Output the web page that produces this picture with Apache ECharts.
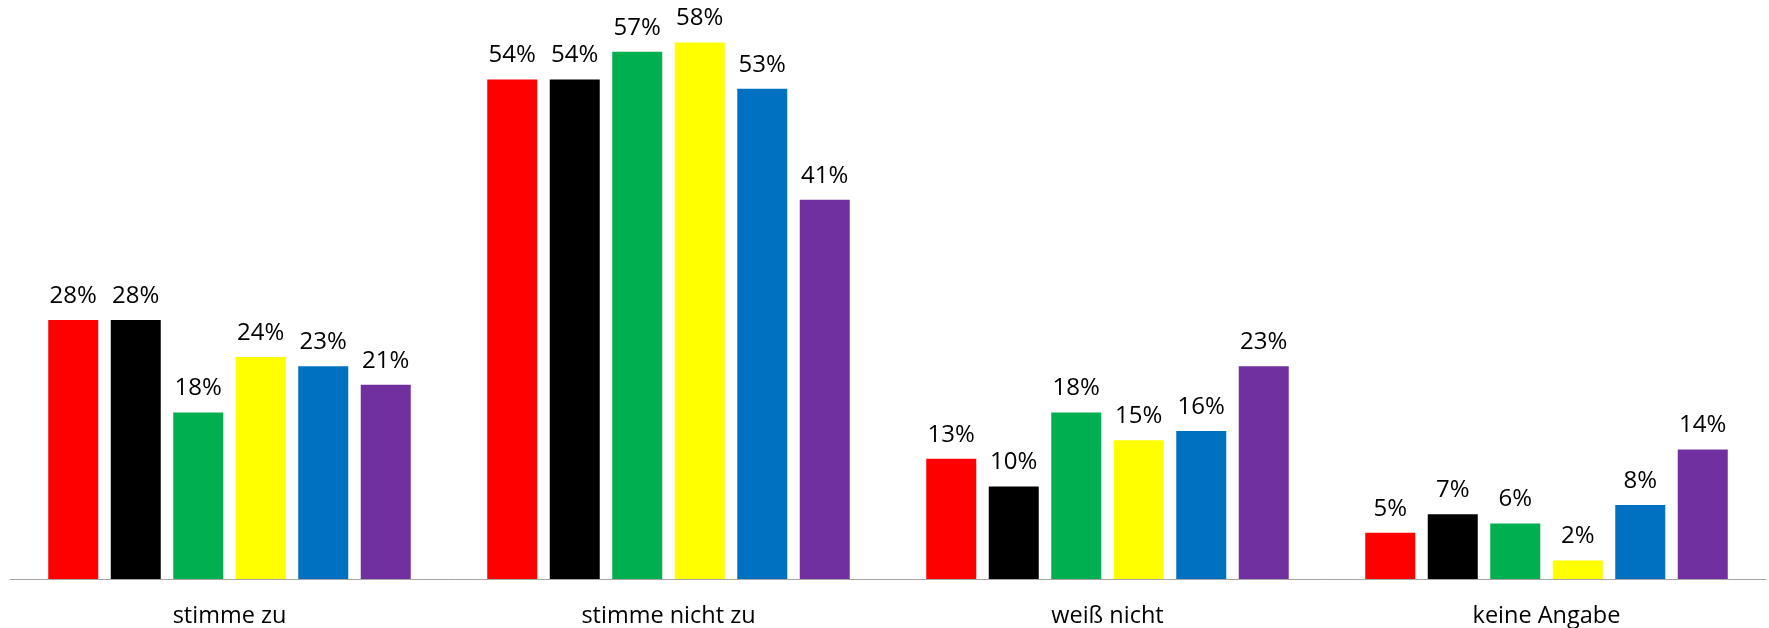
<!DOCTYPE html>
<html>
<head>
<meta charset="utf-8">
<script src="https://cdn.jsdelivr.net/npm/echarts@6/dist/echarts.min.js"></script>
<style>
  html, body { margin: 0; padding: 0; background: #ffffff; }
  #chart { width: 1769px; height: 628px; }
</style>
</head>
<body>
<div id="chart"></div>
<script>
// Answer categories
const categories = ['stimme zu', 'stimme nicht zu', 'weiß nicht', 'keine Angabe'];

// Shares in percent per group
const rot     = [28, 54, 13, 5];
const schwarz = [28, 54, 10, 7];
const gruen   = [18, 57, 18, 6];
const gelb    = [24, 58, 15, 2];
const blau    = [23, 53, 16, 8];
const lila    = [21, 41, 23, 14];

const groups = [
  { name: 'rot',     data: rot,     color: '#FF0000' },
  { name: 'schwarz', data: schwarz, color: '#000000' },
  { name: 'grün',    data: gruen,   color: '#00B050' },
  { name: 'gelb',    data: gelb,    color: '#FFFF00' },
  { name: 'blau',    data: blau,    color: '#0070C0' },
  { name: 'lila',    data: lila,    color: '#7030A0' }
];

const font = '"Open Sans", "Noto Sans", sans-serif';

const chart = echarts.init(document.getElementById('chart'), null, { renderer: 'canvas' });

chart.setOption({
  animation: false,
  backgroundColor: '#ffffff',
  grid: { left: 10, right: 3, top: 24, bottom: 47, containLabel: false },
  xAxis: {
    type: 'category',
    data: categories,
    axisLine: { show: true, lineStyle: { color: '#A6A6A6', width: 1 } },
    axisTick: { show: false },
    axisLabel: { color: '#000000', fontFamily: font, fontSize: 23.5, margin: 25 }
  },
  yAxis: {
    type: 'value',
    min: 0,
    max: 60,
    show: false,
    splitLine: { show: false }
  },
  series: groups.map(g => ({
    name: g.name,
    type: 'bar',
    data: g.data,
    barWidth: 50,
    barGap: '25%',
    itemStyle: { color: g.color },
    label: {
      show: true,
      position: 'top',
      distance: 12,
      formatter: '{c}%',
      color: '#000000',
      fontFamily: font,
      fontSize: 24
    }
  }))
});
</script>
</body>
</html>
